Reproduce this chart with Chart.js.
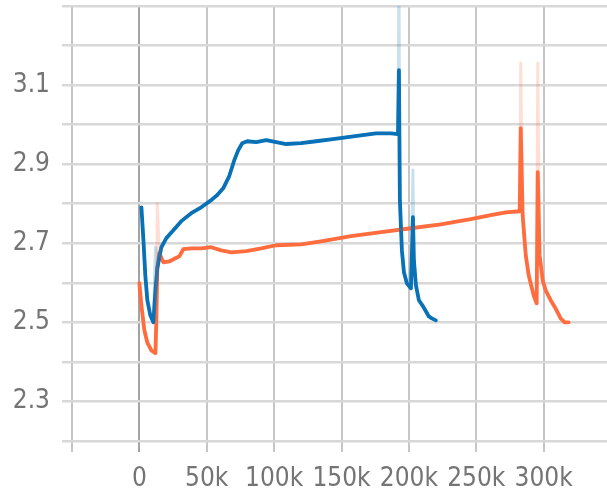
<!DOCTYPE html>
<html>
<head>
<meta charset="utf-8">
<script src="https://cdn.jsdelivr.net/npm/chart.js@4.4.1/dist/chart.umd.min.js"></script>
<style>
  html, body { margin: 0; padding: 0; background: #ffffff; }
  #wrap { width: 607px; height: 493px; }
</style>
</head>
<body>
<div id="wrap"><canvas id="c" width="607" height="493"></canvas></div>
<script>
// Training steps and smoothed values, blue run
const blueSteps = [1500, 3000, 4400, 5900, 8100, 10400, 11900, 13300, 16300, 20000, 25200, 31100, 38500, 45900, 53300, 57800, 62200, 66700, 70400, 73300, 76300, 80000, 86700, 94100, 101500, 108900, 120000, 131100, 142200, 153300, 164400, 175600, 186700, 191900, 192600, 193300, 194800, 196300, 198500, 201500, 203000, 203700, 205200, 207400, 210400, 212600, 214800, 217000, 220000];
const blueSmoothed = [2.791, 2.708, 2.619, 2.556, 2.518, 2.500, 2.581, 2.637, 2.690, 2.713, 2.733, 2.756, 2.776, 2.791, 2.809, 2.822, 2.839, 2.870, 2.910, 2.935, 2.953, 2.958, 2.956, 2.961, 2.956, 2.951, 2.953, 2.958, 2.963, 2.968, 2.973, 2.978, 2.978, 2.976, 3.138, 2.809, 2.682, 2.627, 2.599, 2.586, 2.766, 2.657, 2.594, 2.556, 2.541, 2.528, 2.515, 2.510, 2.505];
const blueRaw = [2.791, 2.708, 2.619, 2.556, 2.518, 2.500, 2.690, 2.660, 2.690, 2.713, 2.733, 2.756, 2.776, 2.791, 2.809, 2.822, 2.839, 2.870, 2.910, 2.935, 2.953, 2.958, 2.956, 2.961, 2.956, 2.951, 2.953, 2.958, 2.963, 2.968, 2.973, 2.978, 2.978, 2.976, 3.400, 2.809, 2.682, 2.627, 2.599, 2.586, 2.885, 2.657, 2.594, 2.556, 2.541, 2.528, 2.515, 2.510, 2.505];

// Training steps and smoothed values, orange run
const orangeSteps = [0, 1500, 3700, 5900, 8900, 11900, 12600, 13300, 14800, 17800, 22200, 26700, 29600, 32600, 38500, 45900, 53300, 60700, 68100, 79300, 90400, 101500, 120000, 134800, 157000, 179300, 201500, 223700, 245900, 260700, 271900, 282200, 283000, 284400, 286700, 288900, 292600, 294800, 295600, 297000, 299300, 301500, 305200, 308900, 312600, 315600, 318500];
const orangeSmoothed = [2.599, 2.543, 2.480, 2.449, 2.429, 2.422, 2.505, 2.637, 2.675, 2.652, 2.654, 2.662, 2.667, 2.685, 2.687, 2.687, 2.690, 2.682, 2.677, 2.680, 2.687, 2.695, 2.697, 2.705, 2.718, 2.728, 2.738, 2.748, 2.761, 2.771, 2.778, 2.781, 2.991, 2.771, 2.670, 2.619, 2.568, 2.548, 2.880, 2.670, 2.606, 2.581, 2.556, 2.535, 2.510, 2.500, 2.500];
const orangeRaw = [2.599, 2.543, 2.480, 2.449, 2.429, 2.422, 2.505, 2.800, 2.675, 2.652, 2.654, 2.662, 2.667, 2.685, 2.687, 2.687, 2.690, 2.682, 2.677, 2.680, 2.687, 2.695, 2.697, 2.705, 2.718, 2.728, 2.738, 2.748, 2.761, 2.771, 2.778, 2.781, 3.156, 2.771, 2.670, 2.619, 2.568, 2.548, 3.156, 2.670, 2.606, 2.581, 2.556, 2.535, 2.510, 2.500, 2.500];

// Axis ticks
const xGridValues = [-50000, 0, 50000, 100000, 150000, 200000, 250000, 300000];
const xTickLabels = ['', '0', '50k', '100k', '150k', '200k', '250k', '300k'];
const yGridValues = [2.2, 2.3, 2.4, 2.5, 2.6, 2.7, 2.8, 2.9, 3.0, 3.1, 3.2, 3.3];
const yTickLabels = ['2.3', '2.5', '2.7', '2.9', '3.1'];

const BLUE = '#0a72b8';
const ORANGE = '#ff6d3f';

function pairs(xs, ys) {
  return xs.map((x, i) => ({ x: x, y: ys[i] }));
}

const tickFont = { family: "'DejaVu Sans Condensed', 'DejaVu Sans', sans-serif", size: 26 };

new Chart(document.getElementById('c'), {
  type: 'line',
  data: {
    datasets: [
      { data: pairs(blueSteps, blueRaw), borderColor: 'rgba(10,114,184,0.22)', borderWidth: 3 },
      { data: pairs(orangeSteps, orangeRaw), borderColor: 'rgba(255,109,63,0.22)', borderWidth: 3 },
      { data: pairs(blueSteps, blueSmoothed), borderColor: BLUE, borderWidth: 3.8 },
      { data: pairs(orangeSteps, orangeSmoothed), borderColor: ORANGE, borderWidth: 3.8 }
    ]
  },
  options: {
    responsive: false,
    animation: false,
    devicePixelRatio: 1,
    layout: { padding: { top: 6, right: 0, left: 0, bottom: 0 } },
    elements: { point: { radius: 0 }, line: { tension: 0, borderCapStyle: 'round', borderJoinStyle: 'round' } },
    plugins: { legend: { display: false }, tooltip: { enabled: false } },
    scales: {
      x: {
        type: 'linear',
        min: -50000,
        max: 347000,
        afterBuildTicks: (s) => { s.ticks = xGridValues.map(v => ({ value: v })); },
        afterFit: (s) => { s.height = 52; s.paddingLeft = 0; s.paddingRight = 0; },
        border: { display: false },
        grid: {
          color: (ctx) => (ctx.tick && ctx.tick.value === 0) ? '#a3a3a3' : '#c6c6c6',
          lineWidth: 2,
          tickLength: 11,
          drawTicks: true
        },
        ticks: {
          maxRotation: 0,
          autoSkip: false,
          padding: 12,
          color: '#747474',
          font: tickFont,
          callback: (v) => { const i = xGridValues.indexOf(v); return i >= 0 ? xTickLabels[i] : ''; }
        }
      },
      y: {
        type: 'linear',
        min: 2.2,
        max: 3.3,
        afterBuildTicks: (s) => { s.ticks = yGridValues.map(v => ({ value: v })); },
        afterFit: (s) => { s.width = 72; s.paddingTop = 0; s.paddingBottom = 0; },
        border: { display: false },
        grid: {
          color: '#d8d8d8',
          lineWidth: 2.5,
          tickLength: 10,
          drawTicks: true
        },
        ticks: {
          autoSkip: false,
          padding: 12,
          color: '#747474',
          font: tickFont,
          callback: (v) => { const t = Number(v).toFixed(1); return yTickLabels.includes(t) ? t : ''; }
        }
      }
    }
  }
});
</script>
</body>
</html>
